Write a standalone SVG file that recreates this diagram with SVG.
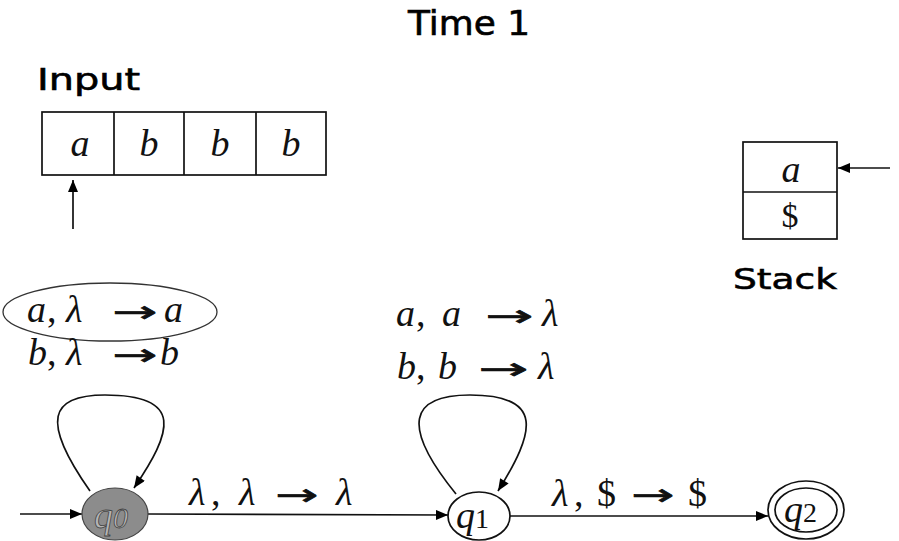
<svg xmlns="http://www.w3.org/2000/svg" width="899" height="541" viewBox="0 0 899 541">
<defs>
<marker id="ah" viewBox="0 0 12 10" refX="12" refY="5" markerWidth="13" markerHeight="10" markerUnits="userSpaceOnUse" orient="auto">
<path d="M0,0 L12,5 L0,10 z" fill="#000"/>
</marker>
<style>
.ttl{font-family:"Comic Sans MS","DejaVu Sans",sans-serif;fill:#000;stroke:#000;stroke-width:0.6}
.m{font-family:"Liberation Serif","DejaVu Serif",serif;font-style:italic;fill:#111}
.r{font-family:"Liberation Serif","DejaVu Serif",serif;fill:#111}
.arw{font-family:"DejaVu Sans",sans-serif;fill:#111;stroke:#111;stroke-width:0.7}
.box{fill:#fff;stroke:#111;stroke-width:1.7}
.edge{fill:none;stroke:#111;stroke-width:1.7;marker-end:url(#ah)}
.node{fill:#fff;stroke:#111;stroke-width:1.7}
</style>
</defs>
<rect width="899" height="541" fill="#fff"/>

<text class="ttl" x="408" y="35" font-size="33" textLength="122" lengthAdjust="spacingAndGlyphs">Time 1</text>
<text class="ttl" x="37" y="90" font-size="30" textLength="103" lengthAdjust="spacingAndGlyphs">Input</text>
<text class="ttl" x="733" y="289" font-size="29" textLength="104" lengthAdjust="spacingAndGlyphs">Stack</text>

<g id="input">
<rect class="box" x="42" y="112" width="284" height="63"/>
<line x1="114" y1="112" x2="114" y2="175" stroke="#111" stroke-width="1.7"/>
<line x1="184" y1="112" x2="184" y2="175" stroke="#111" stroke-width="1.7"/>
<line x1="256" y1="112" x2="256" y2="175" stroke="#111" stroke-width="1.7"/>
<text class="m" x="80" y="156" font-size="38" text-anchor="middle">a</text>
<text class="m" x="149" y="156" font-size="38" text-anchor="middle">b</text>
<text class="m" x="220" y="156" font-size="38" text-anchor="middle">b</text>
<text class="m" x="291" y="156" font-size="38" text-anchor="middle">b</text>
</g>

<g id="stack">
<rect class="box" x="743" y="142" width="94" height="97"/>
<line x1="743" y1="192" x2="837" y2="192" stroke="#111" stroke-width="1.7"/>
<text class="m" x="791" y="182" font-size="38" text-anchor="middle">a</text>
<text class="r" x="790" y="227" font-size="34" text-anchor="middle">$</text>
</g>

<g id="connectors">
<line class="edge" x1="73" y1="229" x2="73" y2="180"/>
<line class="edge" x1="890" y1="168" x2="838" y2="168"/>
<line class="edge" x1="20" y1="514" x2="82" y2="514"/>
<line class="edge" x1="148" y1="514" x2="448" y2="515"/>
<line class="edge" x1="510" y1="516" x2="768" y2="516"/>
<path class="edge" d="M90 491 C40 420, 50 395, 105 395 C185 395, 172 432, 134 488"/>
<path class="edge" d="M456 494 C400 425, 410 395, 470 395 C545 395, 535 432, 498 491"/>
</g>

<g id="q0">
<ellipse cx="115" cy="514" rx="33" ry="26" fill="#8c8c8c" stroke="#444" stroke-width="1.2"/>
<text x="94" y="528" font-size="38" class="m" style="fill:#b5b5b5;stroke:#444;stroke-width:0.8">q<tspan font-size="30" dy="0">0</tspan></text>
</g>

<g id="q1">
<ellipse class="node" cx="479" cy="516" rx="31" ry="24"/>
<text x="456" y="528" font-size="38" class="m">q<tspan font-size="28" font-style="normal" dy="0">1</tspan></text>
</g>

<g id="q2">
<ellipse class="node" cx="806" cy="510" rx="38" ry="29"/>
<ellipse class="node" cx="806" cy="510" rx="31" ry="22"/>
<text x="784" y="522" font-size="38" class="m">q<tspan font-size="28" font-style="normal" dy="0">2</tspan></text>
</g>

<g id="labels">
<ellipse cx="110" cy="312" rx="107" ry="29" fill="none" stroke="#333" stroke-width="1.3"/>
<text class="m" y="322" font-size="38"><tspan x="27">a</tspan><tspan x="47" font-style="normal">,</tspan><tspan x="66">λ</tspan><tspan x="164">a</tspan></text>
<text class="arw" x="112" y="322" font-size="30" textLength="45" lengthAdjust="spacingAndGlyphs">→</text>
<text class="m" y="365" font-size="38"><tspan x="28">b</tspan><tspan x="47" font-style="normal">,</tspan><tspan x="66">λ</tspan><tspan x="160">b</tspan></text>
<text class="arw" x="112" y="365" font-size="30" textLength="45" lengthAdjust="spacingAndGlyphs">→</text>

<text class="m" y="326" font-size="38"><tspan x="396">a</tspan><tspan x="416" font-style="normal">,</tspan><tspan x="442">a</tspan><tspan x="542">λ</tspan></text>
<text class="arw" x="485" y="326" font-size="30" textLength="48" lengthAdjust="spacingAndGlyphs">→</text>
<text class="m" y="379" font-size="38"><tspan x="397">b</tspan><tspan x="416" font-style="normal">,</tspan><tspan x="438">b</tspan><tspan x="538">λ</tspan></text>
<text class="arw" x="478" y="379" font-size="30" textLength="50" lengthAdjust="spacingAndGlyphs">→</text>

<text class="m" y="505" font-size="38"><tspan x="189">λ</tspan><tspan x="211" font-style="normal">,</tspan><tspan x="239">λ</tspan><tspan x="336">λ</tspan></text>
<text class="arw" x="275" y="505" font-size="30" textLength="43" lengthAdjust="spacingAndGlyphs">→</text>

<text class="m" y="506" font-size="38"><tspan x="552">λ</tspan><tspan x="574" font-style="normal">,</tspan><tspan x="597" font-style="normal">$</tspan><tspan x="688" font-style="normal">$</tspan></text>
<text class="arw" x="631" y="505" font-size="30" textLength="43" lengthAdjust="spacingAndGlyphs">→</text>
</g>
</svg>
